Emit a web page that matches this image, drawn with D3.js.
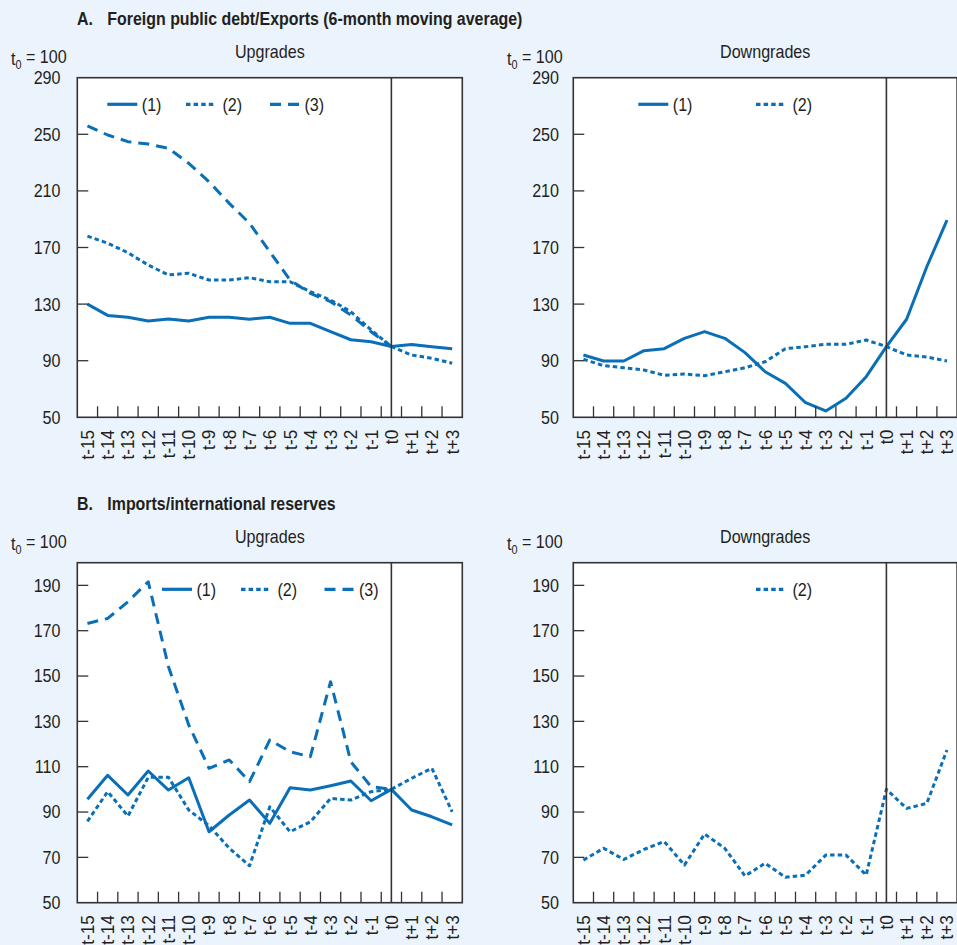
<!DOCTYPE html>
<html>
<head>
<meta charset="utf-8">
<script src="https://cdn.jsdelivr.net/npm/d3@7"></script>
<style>
  html, body { margin: 0; padding: 0; background: #EBF3FD; }
  svg { display: block; }
  text { font-family: "Liberation Sans", Arial, Helvetica, sans-serif; fill: #231F20; }
</style>
</head>
<body>
<script>
// Event window around the rating change (t0)
const periods = ["t-15","t-14","t-13","t-12","t-11","t-10","t-9","t-8","t-7","t-6",
                 "t-5","t-4","t-3","t-2","t-1","t0","t+1","t+2","t+3"];

// A. Foreign public debt / exports (6-month moving average), t0 = 100
const debtUp1 = [130,122,120.7,118,119.5,118,120.7,120.7,119.3,120.7,116.4,116.4,110.5,104.8,103.4,100,101.4,99.8,98.4];
const debtUp2 = [178,173,166.3,157.6,150.6,151.8,147,147,148.7,145.8,145.8,138.8,132.9,124.6,111.7,100,94,91.7,88.2];
const debtUp3 = [256,249.5,244.8,243.1,240.1,229.5,216.5,201.2,187.1,167,147,137.6,131.7,122.3,110.5,100,null,null,null];
const debtDown1 = [94,89.8,89.8,97.1,98.5,105.8,110.5,105.8,95.7,82.2,74,60.3,54.5,63.4,78.7,100,119.3,156.4,189.4];
const debtDown2 = [91,86.5,85,83.4,79.7,80.6,79.4,82.2,85,89.3,98.5,99.9,101.6,101.6,104.6,100,94,92.6,89.8];
const debtTicks = [50,90,130,170,210,250,290];

// B. Imports / international reserves, t0 = 100
const resUp1 = [95.6,106.2,97.5,108.1,99.7,105.1,81.3,88.7,95.3,85,100.7,99.7,101.6,103.7,95,100,90.9,87.9,84.3];
const resUp2 = [85.9,99,88.2,105.3,105.3,90.9,84,74,66.3,92.3,81.3,85.7,96,95.3,99,100,104.9,109.3,90.1];
const resUp3 = [173.2,175.4,182.8,191.6,154.1,128.4,109.3,113,103.4,121.8,116.6,114.4,147.5,112.2,101.2,100,null,null,null];
const resDown2 = [68.8,74,69.1,73.5,77,66.6,80.3,74,61.8,67.4,61.2,62.2,71,71,62.2,100,91.6,93.8,117.4];
const resTicks = [50,70,90,110,130,150,170,190];

const BLUE = "#0A6FB7";
const INK = "#333";
const FS = 18.5;          // body text size
const SQUEEZE = 0.87;     // horizontal condensing for labels
const SQUEEZE_X = 0.93;   // rotated period labels
const SQUEEZE_T = 0.885;  // bold section titles
const DASH = { "(1)": null, "(2)": "4.5,3.1", "(3)": "11,7" };

const svg = d3.select("body").append("svg")
  .attr("width", 957).attr("height", 945);

svg.append("rect").attr("width", 957).attr("height", 945).attr("fill", "#EBF3FD");

// "t0 = 100" unit note with a subscript zero
function unitNote(g, xRight, yCenter) {
  const holder = g.append("g")
    .attr("transform", `translate(${xRight},${yCenter}) scale(${SQUEEZE},1)`);
  const t = holder.append("text")
    .attr("x", 0).attr("y", 0).attr("dy", "0.35em")
    .attr("text-anchor", "end").attr("font-size", FS);
  t.append("tspan").text("t");
  t.append("tspan").attr("font-size", 12.5).attr("dy", "0.32em").text("0");
  t.append("tspan").attr("dy", "-0.32em").text(" = 100");
}

function drawPanel(cfg) {
  const g = svg.append("g");
  const x = d3.scaleBand().domain(periods).range([cfg.left, cfg.right]);
  const y = d3.scaleLinear().domain(cfg.domain).range([cfg.bottom, cfg.top]);
  const cx = p => x(p) + x.bandwidth() / 2;

  g.append("rect")
    .attr("x", cfg.left).attr("y", cfg.top)
    .attr("width", cfg.right - cfg.left).attr("height", cfg.bottom - cfg.top)
    .attr("fill", "#fff");

  // series
  const line = d3.line()
    .defined(d => d != null)
    .x((d, i) => cx(periods[i]))
    .y(d => y(d));

  cfg.series.forEach(s => {
    g.append("path")
      .datum(s.values)
      .attr("d", line)
      .attr("fill", "none")
      .attr("stroke", BLUE)
      .attr("stroke-width", 3)
      .attr("stroke-linejoin", "round")
      .attr("stroke-dasharray", DASH[s.name]);
  });

  // legend
  cfg.series.forEach(s => {
    const lx = cfg.legend[s.name];
    g.append("line")
      .attr("x1", lx).attr("x2", lx + (s.name === "(2)" ? 27.3 : 30))
      .attr("y1", cfg.legendY).attr("y2", cfg.legendY)
      .attr("stroke", BLUE).attr("stroke-width", 3.2)
      .attr("stroke-dasharray", DASH[s.name]);
    g.append("text").attr("class", "cond")
      .attr("x", lx + (s.name === "(2)" ? 36.5 : 34.5)).attr("y", cfg.legendY).attr("dy", "0.35em")
      .attr("font-size", FS)
      .text(s.name);
  });

  // t0 reference line
  g.append("line")
    .attr("x1", cx("t0")).attr("x2", cx("t0"))
    .attr("y1", cfg.top).attr("y2", cfg.bottom)
    .attr("stroke", INK).attr("stroke-width", 1.6);

  // frame
  g.append("rect")
    .attr("x", cfg.left).attr("y", cfg.top)
    .attr("width", cfg.right - cfg.left).attr("height", cfg.bottom - cfg.top)
    .attr("fill", "none").attr("stroke", INK).attr("stroke-width", 1.6);

  // y axis: labels outside, short ticks inside the frame
  const yAxis = d3.axisLeft(y).tickValues(cfg.ticks).tickSize(0).tickPadding(0);
  const ya = g.append("g").attr("transform", `translate(${cfg.labelX},0)`).call(yAxis);
  ya.select(".domain").remove();
  ya.selectAll("text").attr("class", "cond").attr("font-size", FS).attr("fill", "#231F20");
  cfg.ticks.filter(v => v > cfg.domain[0] && v < cfg.domain[1]).forEach(v => {
    g.append("line")
      .attr("x1", cfg.left).attr("x2", cfg.left + 11)
      .attr("y1", y(v)).attr("y2", y(v))
      .attr("stroke", INK).attr("stroke-width", 1.3);
  });

  // x axis: ticks on band edges, rotated labels
  periods.slice(1).forEach(p => {
    g.append("line")
      .attr("x1", x(p)).attr("x2", x(p))
      .attr("y1", cfg.bottom).attr("y2", cfg.bottom - 11)
      .attr("stroke", INK).attr("stroke-width", 1.3);
  });
  periods.forEach(p => {
    g.append("text").attr("class", "condx")
      .attr("transform", `translate(${cx(p)},${cfg.bottom + 12.5}) rotate(-90)`)
      .attr("text-anchor", "end").attr("dy", "0.35em")
      .attr("font-size", FS)
      .text(p);
  });

  // panel headings
  g.append("text").attr("class", "cond")
    .attr("x", (cfg.left + cfg.right) / 2).attr("y", cfg.subY).attr("dy", "0.35em")
    .attr("text-anchor", "middle").attr("font-size", FS)
    .text(cfg.subtitle);
  unitNote(g, cfg.unitX, cfg.unitY);
}

function drawTitle(letter, text, yc) {
  svg.append("text").attr("class", "condt").attr("x", 77).attr("y", yc).attr("dy", "0.35em")
    .attr("font-size", 18).attr("font-weight", "bold").text(letter);
  svg.append("text").attr("class", "condt").attr("x", 107.3).attr("y", yc).attr("dy", "0.35em")
    .attr("font-size", 18).attr("font-weight", "bold").text(text);
}

const LEFT = [77.3, 462.3];
const RIGHT = [573.3, 957.1];

drawTitle("A.", "Foreign public debt/Exports (6-month moving average)", 18.3);
drawTitle("B.", "Imports/international reserves", 504);

drawPanel({
  left: LEFT[0], right: LEFT[1], top: 77.7, bottom: 417.3,
  domain: [50, 290], ticks: debtTicks, labelX: 60.5,
  subtitle: "Upgrades", subY: 51.7, unitX: 66.7, unitY: 58.3,
  series: [{ name: "(1)", values: debtUp1 }, { name: "(2)", values: debtUp2 }, { name: "(3)", values: debtUp3 }],
  legend: { "(1)": 107.3, "(2)": 186, "(3)": 270 }, legendY: 104.3
});
drawPanel({
  left: RIGHT[0], right: RIGHT[1], top: 77.7, bottom: 417.3,
  domain: [50, 290], ticks: debtTicks, labelX: 559,
  subtitle: "Downgrades", subY: 51.7, unitX: 562.7, unitY: 58.3,
  series: [{ name: "(1)", values: debtDown1 }, { name: "(2)", values: debtDown2 }],
  legend: { "(1)": 638.3, "(2)": 756 }, legendY: 104.3
});
drawPanel({
  left: LEFT[0], right: LEFT[1], top: 562.7, bottom: 902.7,
  domain: [50, 200], ticks: resTicks, labelX: 60.5,
  subtitle: "Upgrades", subY: 537, unitX: 66.7, unitY: 543.3,
  series: [{ name: "(1)", values: resUp1 }, { name: "(2)", values: resUp2 }, { name: "(3)", values: resUp3 }],
  legend: { "(1)": 162, "(2)": 241, "(3)": 324.5 }, legendY: 589.3
});
drawPanel({
  left: RIGHT[0], right: RIGHT[1], top: 562.7, bottom: 902.7,
  domain: [50, 200], ticks: resTicks, labelX: 559,
  subtitle: "Downgrades", subY: 537, unitX: 562.7, unitY: 543.3,
  series: [{ name: "(2)", values: resDown2 }],
  legend: { "(2)": 756 }, legendY: 589.3
});

// condense the labels horizontally to a narrow-face width
function condense(selector, factor) {
  svg.selectAll(selector).each(function () {
    const len = this.getComputedTextLength();
    d3.select(this).attr("textLength", len * factor).attr("lengthAdjust", "spacingAndGlyphs");
  });
}
condense("text.cond", SQUEEZE);
condense("text.condx", SQUEEZE_X);
condense("text.condt", SQUEEZE_T);
</script>
</body>
</html>
